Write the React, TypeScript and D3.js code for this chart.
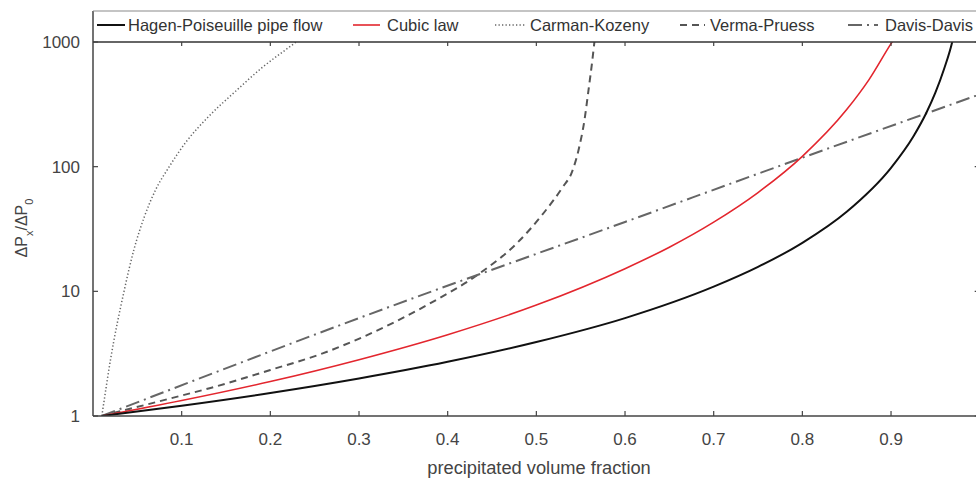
import * as d3 from 'd3'
import React from 'react'

// series (x = precipitated volume fraction, y = ΔPx/ΔP0)
const hagenPhi = [0.01, 0.1, 0.2, 0.3, 0.4, 0.5, 0.6, 0.7, 0.75, 0.8, 0.85, 0.9, 0.925, 0.94, 0.95, 0.96, 0.969, 0.972]
const hagenVal = [1, 1.21, 1.53, 2.0, 2.72, 3.92, 6.1, 10.9, 15.7, 24.5, 43.5, 98, 174, 272, 392, 613, 1000, 1250]

const cubicPhi = [0.01, 0.1, 0.2, 0.3, 0.4, 0.5, 0.6, 0.65, 0.7, 0.75, 0.8, 0.85, 0.875, 0.9, 0.905]
const cubicVal = [1, 1.33, 1.89, 2.83, 4.49, 7.76, 15.2, 22.6, 35.9, 62, 121, 287, 497, 970, 1100]

const carmanPhi = [0.01, 0.02, 0.035, 0.046, 0.058, 0.071, 0.086, 0.105, 0.13, 0.16, 0.19, 0.229, 0.24]
const carmanVal = [1, 2.9, 10, 21.4, 39.8, 66, 100, 158, 251, 398, 617, 1000, 1150]

const vermaPhi = [0.01, 0.1, 0.1315, 0.2, 0.259, 0.301, 0.38, 0.4365, 0.478, 0.508, 0.53, 0.54, 0.548, 0.554, 0.559, 0.563, 0.5655, 0.567]
const vermaVal = [1, 1.46, 1.67, 2.34, 3.18, 4.2, 8.0, 14, 24.3, 42.3, 69, 90, 140, 230, 420, 700, 1000, 1200]

const davisPhi = [0.01, 0.3, 0.6, 0.8, 1.0]
const davisVal = [1, 6.1, 36, 118, 380]

const xTicks = [0.1, 0.2, 0.3, 0.4, 0.5, 0.6, 0.7, 0.8, 0.9]
const yTicks = [1, 10, 100, 1000]

const legendNames = ['Hagen-Poiseuille pipe flow', 'Cubic law', 'Carman-Kozeny', 'Verma-Pruess', 'Davis-Davis']

const font = "'Liberation Sans', Arial, Helvetica, sans-serif"

export default function App() {
  const width = 976
  const height = 480
  const left = 93
  const right = 979.7
  const top = 42
  const bottom = 416

  const x = d3.scaleLinear().domain([0, 1]).range([left, right])
  const y = d3.scaleLog().domain([1, 1000]).range([bottom, top])

  const line = d3
    .line<[number, number]>()
    .x((d) => x(d[0]))
    .y((d) => y(d[1]))
    .curve(d3.curveMonotoneX)

  const zip = (a: number[], b: number[]) => a.map((v, i) => [v, b[i]] as [number, number])

  // styles per series, in legend order
  const series = [
    { pts: zip(hagenPhi, hagenVal), stroke: '#111', w: 2, dash: null },
    { pts: zip(cubicPhi, cubicVal), stroke: '#e3262e', w: 1.6, dash: null },
    { pts: zip(carmanPhi, carmanVal), stroke: '#666', w: 1.5, dash: '1.3,2.2' },
    { pts: zip(vermaPhi, vermaVal), stroke: '#555', w: 2, dash: '7,5' },
    { pts: zip(davisPhi, davisVal), stroke: '#666', w: 2, dash: '14,5,2,5' }
  ]
  const drawOrder = [2, 3, 4, 1, 0]

  // legend entries: line start, line end, text start
  const legendPos = [
    [97, 125, 128],
    [353, 380, 387],
    [495, 525, 530],
    [680, 705, 710],
    [848, 878, 885]
  ]
  const legendY = 25

  return (
    <svg
      width={width}
      height={height}
      style={{ position: 'absolute', left: 0, top: 0, background: '#fff' }}
      fontFamily={font}
    >
      <defs>
        <clipPath id='plotClip'>
          <rect x={left} y={top} width={right - left} height={bottom - top} />
        </clipPath>
      </defs>
      <rect width={width} height={height} fill='#fff' />

      {/* curves */}
      <g clipPath='url(#plotClip)'>
        {drawOrder.map((i) => {
          const s = series[i]
          return (
            <path
              key={i}
              d={line(s.pts) || ''}
              fill='none'
              stroke={s.stroke}
              strokeWidth={s.w}
              strokeDasharray={s.dash || undefined}
            />
          )
        })}
      </g>

      {/* frame */}
      <line x1={left} x2={left} y1={11} y2={bottom} stroke='#444' strokeWidth={1.5} />
      <line x1={left} x2={width} y1={bottom} y2={bottom} stroke='#444' strokeWidth={1.5} />
      <line x1={left} x2={width} y1={top} y2={top} stroke='#333' strokeWidth={1.5} />
      <line x1={left} x2={width} y1={11} y2={11} stroke='#8a8a8a' strokeWidth={1.2} />
      <line x1={right} x2={right} y1={top} y2={bottom} stroke='#444' strokeWidth={1.5} />

      {/* x ticks */}
      {xTicks.map((t) => (
        <g key={t}>
          <line x1={x(t)} x2={x(t)} y1={bottom} y2={bottom - 5} stroke='#444' strokeWidth={1.2} />
          <line x1={x(t)} x2={x(t)} y1={top} y2={top + 4} stroke='#444' strokeWidth={1.2} />
          <text x={x(t)} y={445} textAnchor='middle' fontSize={17} fill='#444'>
            {t.toFixed(1)}
          </text>
        </g>
      ))}

      {/* y ticks */}
      {yTicks.map((t) => (
        <g key={t}>
          <line x1={left} x2={left + 5} y1={y(t)} y2={y(t)} stroke='#444' strokeWidth={1.2} />
          <line x1={right} x2={right - 5} y1={y(t)} y2={y(t)} stroke='#444' strokeWidth={1.2} />
          <text x={80} y={y(t)} dy='0.36em' textAnchor='end' fontSize={17} fill='#444'>
            {t}
          </text>
        </g>
      ))}

      {/* axis titles */}
      <text x={539} y={474} textAnchor='middle' fontSize={18.3} fill='#444'>
        precipitated volume fraction
      </text>
      <text transform='translate(27,228) rotate(-90)' textAnchor='middle' fontSize={16} fill='#444'>
        ΔP<tspan baselineShift='sub' fontSize={11}>x</tspan>
        <tspan>/ΔP</tspan>
        <tspan baselineShift='sub' fontSize={11}>0</tspan>
      </text>

      {/* legend */}
      {legendNames.map((name, i) => {
        const s = series[i]
        const [a, b, tx] = legendPos[i]
        return (
          <g key={name}>
            <line
              x1={a}
              x2={b}
              y1={legendY}
              y2={legendY}
              stroke={s.stroke}
              strokeWidth={s.w}
              strokeDasharray={s.dash || undefined}
            />
            <text x={tx} y={legendY} dy='0.36em' fontSize={16.5} fill='#333'>
              {name}
            </text>
          </g>
        )
      })}
    </svg>
  )
}
